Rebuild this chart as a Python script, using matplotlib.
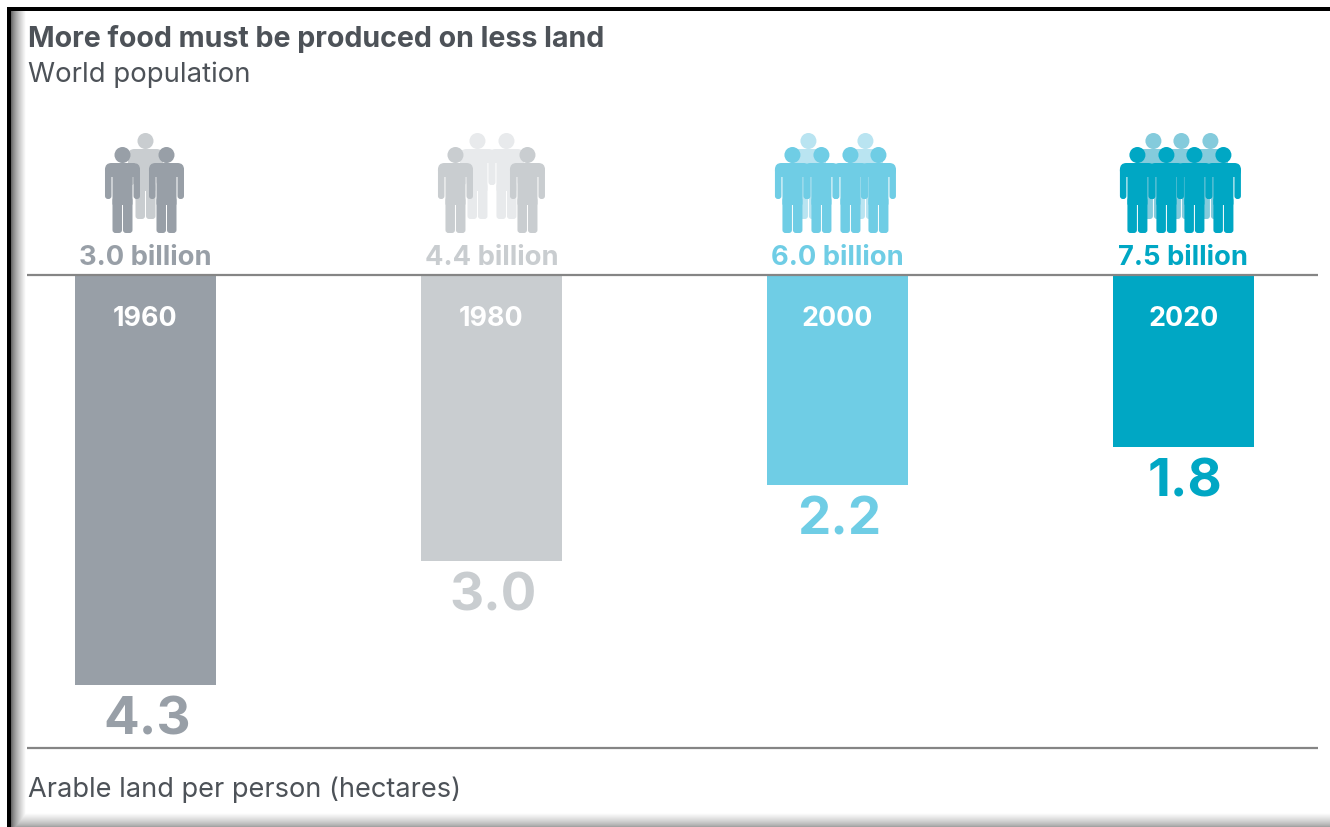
import matplotlib
matplotlib.use('Agg')
import matplotlib.pyplot as plt
import numpy as np
from matplotlib.patches import FancyBboxPatch, Circle

years = ['1960', '1980', '2000', '2020']
population = ['3.0 billion', '4.4 billion', '6.0 billion', '7.5 billion']
arable_land = [4.3, 3.0, 2.2, 1.8]
bar_colors = ['#989fa7', '#c9cdd0', '#6fcde5', '#00a7c4']
back_colors = ['#c9cdd0', '#e8eaec', '#b9e4f1', '#84cbdc']
title = 'More food must be produced on less land'
subtitle = 'World population'
axis_note = 'Arable land per person (hectares)'
text_color = '#4d5258'

# figure people, offsets in pixels from the centre of each bar
front_people = [[-23, 21], [-36, 36], [-45, -16, 13, 41], [-46, -17, 11, 40]]
back_people = [[0], [-14, 15], [-29, 28], [-30, -2, 27]]

W, H = 1330, 827
plt.rcParams['font.family'] = ['Inter', 'Liberation Sans', 'DejaVu Sans']
fig = plt.figure(figsize=(W / 100, H / 100), dpi=100)

# pixel canvas for the frame and the figures
bg = fig.add_axes([0, 0, 1, 1])
bg.set_xlim(0, W)
bg.set_ylim(H, 0)
bg.axis('off')


def rbox(x0, y0, x1, y1, r, color):
    bg.add_patch(FancyBboxPatch((x0 + r, y0 + r), x1 - x0 - 2 * r, y1 - y0 - 2 * r,
                                boxstyle='round,pad=%f,rounding_size=%f' % (r, r),
                                fc=color, ec='none', zorder=3))


def person(cx, top, color):
    bg.add_patch(Circle((cx, top + 8), 8, fc=color, ec='none', zorder=3))
    rbox(cx - 17.5, top + 16, cx + 17.5, top + 30, 6.5, color)  # shoulders
    rbox(cx - 17.5, top + 20, cx - 11, top + 52, 3, color)  # arms
    rbox(cx + 11, top + 20, cx + 17.5, top + 52, 3, color)
    rbox(cx - 10, top + 16, cx + 10, top + 58, 1, color)  # torso
    rbox(cx - 10, top + 50, cx - 0.5, top + 86, 3, color)  # legs
    rbox(cx + 0.5, top + 50, cx + 10, top + 86, 3, color)


# bars hang from the upper line, hectares grow downwards
ax = fig.add_axes([27 / W, 1 - 748 / H, (1318 - 27) / W, (748 - 275) / H])
ax.patch.set_alpha(0)
ax.set_xlim(-0.3425, 3.389)
ax.set_ylim(4.963, 0)
ax.axis('off')
x = np.arange(len(years))
ax.bar(x, arable_land, width=0.407, color=bar_colors, align='center', zorder=2)
ax.hlines([0, 4.963], -0.3425, 3.389, color='#858585', lw=1.6, zorder=3, clip_on=False)

for i in range(len(years)):
    ax.annotate(years[i], (x[i], 0), xytext=(0, -44 * 0.72), textcoords='offset points',
                ha='center', va='center', color='white', fontsize=19.3, fontweight='bold')
    ax.annotate(population[i], (x[i], 0), xytext=(0, 17 * 0.72), textcoords='offset points',
                ha='center', va='center', color=bar_colors[i], fontsize=19.7, fontweight='bold')
    ax.annotate('%.1f' % arable_land[i], (x[i], arable_land[i]), xytext=(1, -36 * 0.72),
                textcoords='offset points', ha='center', va='center',
                color=bar_colors[i], fontsize=38, fontweight='bold')
    cx = bg.transData.inverted().transform(ax.transData.transform((x[i], 0)))[0]
    for off in back_people[i]:
        person(cx + off, 133, back_colors[i])
    for off in front_people[i]:
        person(cx + off, 147, bar_colors[i])

bg.text(28, 39, title, fontsize=20.6, fontweight='bold', color=text_color, va='center')
bg.text(28, 75, subtitle, fontsize=19.8, color=text_color, va='center')
bg.text(28, 790, axis_note, fontsize=19.6, color=text_color, va='center')

# soft inner shadow along the left and bottom edges, then the black frame
px, py = np.meshgrid(np.arange(W) + 0.5, np.arange(H) + 0.5)
left = 0.35 + 0.65 * np.clip((px - 11) / 15, 0, 1) ** 0.7
bottom = 0.6 + 0.4 * np.clip((827 - py) / 14, 0, 1) ** 0.7
bg.imshow(np.minimum(left, bottom), extent=[0, W, H, 0], cmap='gray', vmin=0, vmax=1,
          aspect='auto', zorder=1)
bg.set_xlim(0, W)
bg.set_ylim(H, 0)
bg.fill_between([0, 7], 0, H, color='white', lw=0, zorder=4)
bg.fill_between([0, W], 0, 7, color='white', lw=0, zorder=4)
bg.fill_between([7, W], 7, 11, color='black', lw=0, zorder=5)
bg.fill_between([7, 11], 7, H, color='black', lw=0, zorder=5)

fig.savefig('out.png', dpi=100)
